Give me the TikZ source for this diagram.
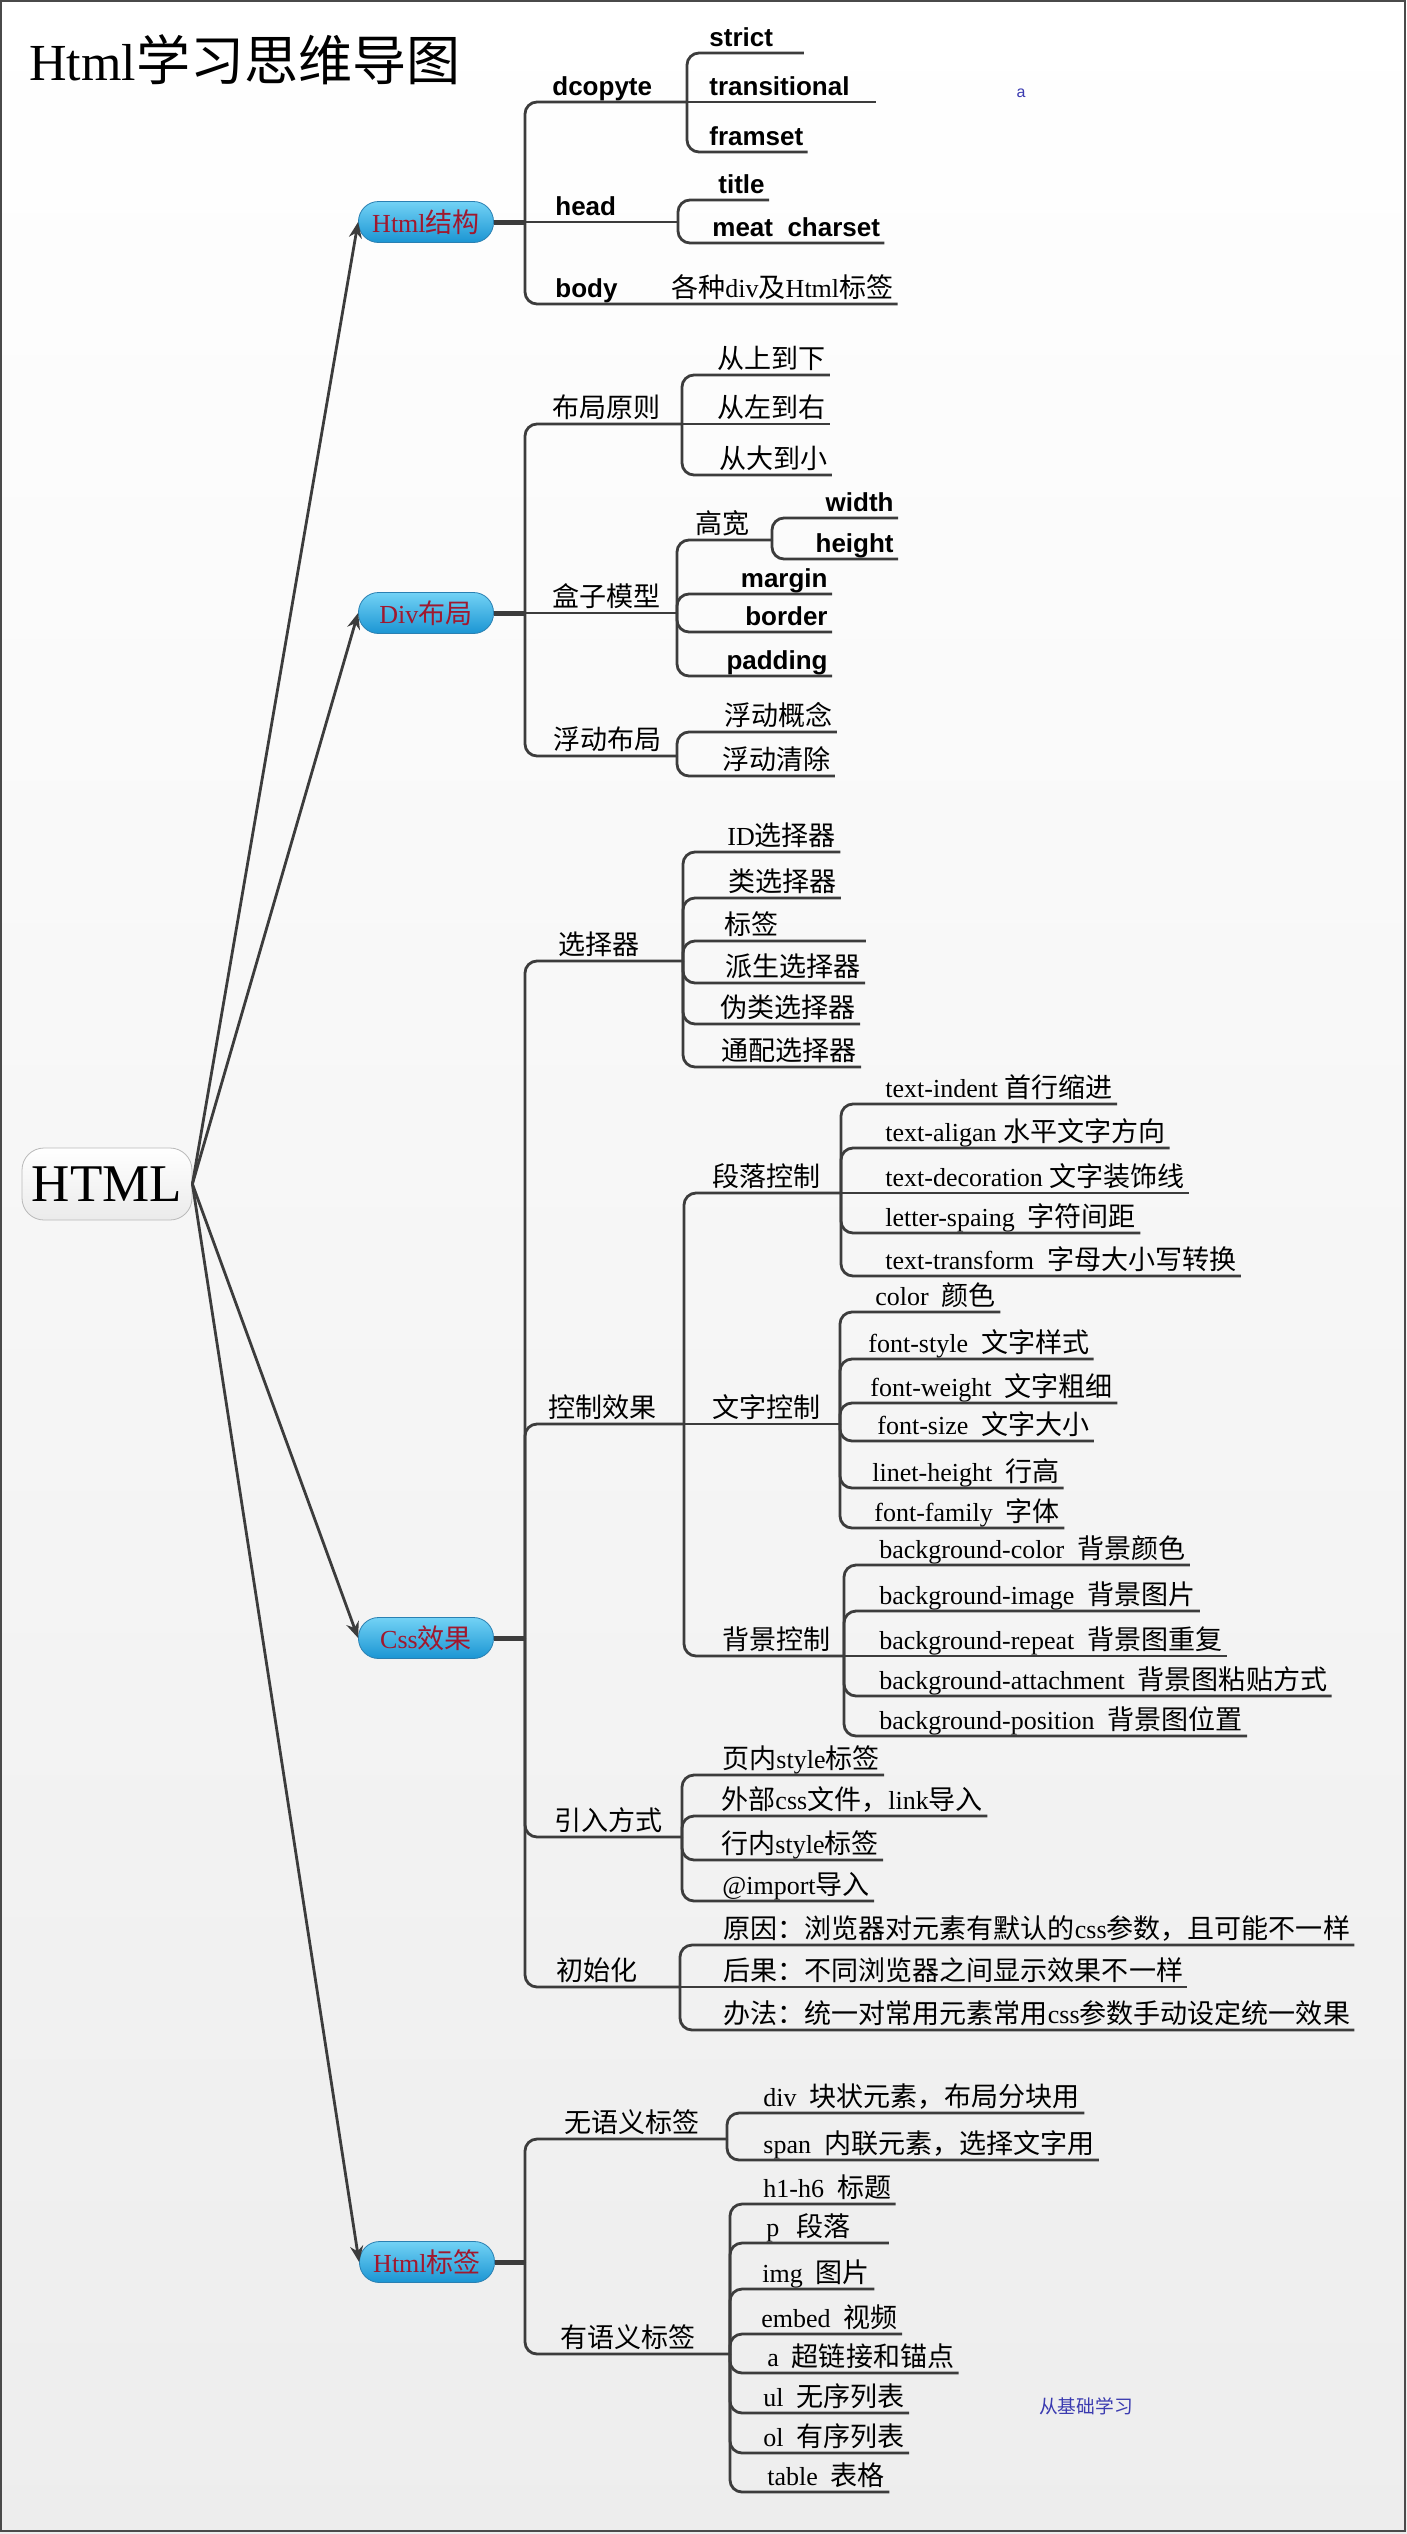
\documentclass[tikz,border=0pt]{standalone}
\usepackage{fontspec}
\setmainfont{Liberation Serif}
\newfontfamily\zhfont[Scale=1.04]{Noto Sans CJK SC}
\newfontfamily\bsans{Liberation Sans}
\newcommand\zh[1]{{\zhfont #1}}
\usetikzlibrary{arrows.meta}
\definecolor{Ink}{HTML}{3C3C3C}
\definecolor{Frame}{HTML}{4A4A4A}
\definecolor{TopicTop}{HTML}{72D2F5}
\definecolor{TopicBot}{HTML}{1B95D3}
\definecolor{TopicRim}{HTML}{2A80B2}
\definecolor{TopicText}{HTML}{A0182E}
\definecolor{Note}{HTML}{3A3AB0}

\begin{document}
\begin{tikzpicture}[x=0.5pt,y=-0.5pt,
root/.style={draw=gray!55,rounded corners=11pt,top color=white,bottom color=black!8,minimum width=85pt,minimum height=36pt,inner sep=0pt,font=\fontsize{26.5pt}{30pt}\selectfont},
topic/.style={draw=TopicRim,rounded corners=10pt,top color=TopicTop,bottom color=TopicBot,minimum width=67.5pt,minimum height=20.5pt,inner sep=0pt,text=TopicText,font=\fontsize{13pt}{15pt}\selectfont},
leaf/.style={anchor=south west,inner xsep=2pt,inner ysep=3pt,text depth=0pt,font=\fontsize{13pt}{15pt}\selectfont},
bleaf/.style={leaf,font=\fontsize{13pt}{15pt}\selectfont\bsans\bfseries},
br/.style={draw=Ink,line width=1.4pt,rounded corners=6pt},
stub/.style={draw=Ink,line width=2.5pt},
arr/.style={-{Stealth[length=8pt,width=6.5pt]},draw=Ink,line width=1.4pt}]
\useasboundingbox (0,0) rectangle (1407,2534);
\fill[top color=white,bottom color=black!7] (0,0) rectangle (1407,2534);
\draw[Frame,line width=1pt] (1,1) rectangle (1405,2531);

\node[anchor=base west,inner sep=0pt,font=\fontsize{26pt}{30pt}\selectfont] (title) at (29,80) {Html\zh{学习思维导图}};
\node[inner sep=0pt,text=Note,font=\fontsize{8pt}{9pt}\selectfont\bsans] (mark) at (1021,93) {a};
\node[inner sep=0pt,text=Note,font=\fontsize{9pt}{10pt}\selectfont] (study) at (1086,2406) {\zh{从基础学习}};

\node[root] (html) at (107,1184) {HTML};
\node[topic] (hs) at (426,222) {Html\zh{结构}};
\node[topic] (dv) at (426,613) {Div\zh{布局}};
\node[topic] (css) at (426,1638) {Css\zh{效果}};
\node[topic] (tag) at (427,2262) {Html\zh{标签}};
\draw[arr] (html.east) -- (hs.west);
\draw[arr] (html.east) -- (dv.west);
\draw[arr] (html.east) -- (css.west);
\draw[arr] (html.east) -- (tag.west);

% Html结构
\coordinate (hsj) at (525,222);
\draw[stub] (hs.east) -- (hsj);
\node[bleaf] (dc) at (548,102) {dcopyte};
\coordinate (dcj) at (687,102);
\draw[br] (hsj) |- (dcj);
\node[bleaf,text width=45pt,align=left] (strict) at (705,53) {strict};
\node[bleaf,text width=81pt,align=left] (trans) at (705,102) {transitional};
\node[bleaf] (frameset) at (705,152) {framset};
\draw[br] (dcj) |- (strict.south east);
\draw[br] (dcj) -- (trans.south east);
\draw[br] (dcj) |- (frameset.south east);
\node[bleaf] (head) at (551,222) {head};
\coordinate (hdj) at (678,222);
\draw[br] (hsj) -- (hdj);
\node[bleaf] (ttl) at (714,200) {title};
\node[bleaf] (meta) at (708,243) {meat~~charset};
\draw[br] (hdj) |- (ttl.south east);
\draw[br] (hdj) |- (meta.south east);
\node[bleaf] (body) at (551,304) {body};
\node[leaf] (tags) at (667,304) {\zh{各种}div\zh{及}Html\zh{标签}};
\draw[br] (hsj) |- (tags.south east);

% Div布局
\coordinate (dvj) at (525,613);
\draw[stub] (dv.east) -- (dvj);
\node[leaf] (yz) at (548,424) {\zh{布局原则}};
\coordinate (yzj) at (682,424);
\draw[br] (dvj) |- (yzj);
\node[leaf] (sx) at (713,375) {\zh{从上到下}};
\node[leaf] (zy) at (713,424) {\zh{从左到右}};
\node[leaf] (dx) at (715,475) {\zh{从大到小}};
\draw[br] (yzj) |- (sx.south east);
\draw[br] (yzj) -- (zy.south east);
\draw[br] (yzj) |- (dx.south east);
\node[leaf] (hz) at (548,613) {\zh{盒子模型}};
\coordinate (hzj) at (677,613);
\draw[br] (dvj) -- (hzj);
\node[leaf] (gk) at (691,540) {\zh{高宽}};
\coordinate (gkj) at (772,540);
\draw[br] (hzj) |- (gkj);
\node[bleaf,anchor=south east] (wd) at (898,518) {width};
\node[bleaf,anchor=south east] (ht) at (898,559) {height};
\draw[br] (gkj) |- (wd.south east);
\draw[br] (gkj) |- (ht.south east);
\node[bleaf,anchor=south east] (mg) at (832,594) {margin};
\node[bleaf,anchor=south east] (bd) at (832,632) {border};
\node[bleaf,anchor=south east] (pd) at (832,676) {padding};
\draw[br] (hzj) |- (mg.south east);
\draw[br] (hzj) |- (bd.south east);
\draw[br] (hzj) |- (pd.south east);
\node[leaf] (fd) at (549,756) {\zh{浮动布局}};
\coordinate (fdj) at (677,756);
\draw[br] (dvj) |- (fdj);
\node[leaf] (gn) at (720,732) {\zh{浮动概念}};
\node[leaf] (qc) at (718,776) {\zh{浮动清除}};
\draw[br] (fdj) |- (gn.south east);
\draw[br] (fdj) |- (qc.south east);

% Css效果
\coordinate (cssj) at (525,1638);
\draw[stub] (css.east) -- (cssj);
\node[leaf] (xz) at (554,961) {\zh{选择器}};
\coordinate (xzj) at (683,961);
\draw[br] (cssj) |- (xzj);
\node[leaf] (idx) at (723,852) {ID\zh{选择器}};
\node[leaf] (lei) at (724,898) {\zh{类选择器}};
\node[leaf,text width=68.5pt,align=left] (bq) at (720,941) {\zh{标签}};
\node[leaf] (ps) at (721,983) {\zh{派生选择器}};
\node[leaf] (wl) at (716,1024) {\zh{伪类选择器}};
\node[leaf] (tp) at (717,1067) {\zh{通配选择器}};
\draw[br] (xzj) |- (idx.south east);
\draw[br] (xzj) |- (lei.south east);
\draw[br] (xzj) |- (bq.south east);
\draw[br] (xzj) |- (ps.south east);
\draw[br] (xzj) |- (wl.south east);
\draw[br] (xzj) |- (tp.south east);
\node[leaf] (kz) at (544,1424) {\zh{控制效果}};
\coordinate (kzj) at (684,1424);
\draw[br] (cssj) |- (kzj);
\node[leaf] (dl) at (708,1193) {\zh{段落控制}};
\coordinate (dlj) at (841,1193);
\draw[br] (kzj) |- (dlj);
\node[leaf] (ti) at (881,1104) {text-indent \zh{首行缩进}};
\node[leaf] (ta) at (881,1148) {text-aligan \zh{水平文字方向}};
\node[leaf] (tdc) at (881,1193) {text-decoration \zh{文字装饰线}};
\node[leaf] (lsp) at (881,1233) {letter-spaing~~\zh{字符间距}};
\node[leaf] (ttf) at (881,1276) {text-transform~~\zh{字母大小写转换}};
\draw[br] (dlj) |- (ti.south east);
\draw[br] (dlj) |- (ta.south east);
\draw[br] (dlj) -- (tdc.south east);
\draw[br] (dlj) |- (lsp.south east);
\draw[br] (dlj) |- (ttf.south east);
\node[leaf] (wz) at (708,1424) {\zh{文字控制}};
\coordinate (wzj) at (840,1424);
\draw[br] (kzj) -- (wzj);
\node[leaf] (co) at (871,1312) {color~~\zh{颜色}};
\node[leaf] (fst) at (864,1359) {font-style~~\zh{文字样式}};
\node[leaf] (fwt) at (866,1403) {font-weight~~\zh{文字粗细}};
\node[leaf] (fsz) at (873,1441) {font-size~~\zh{文字大小}};
\node[leaf] (lht) at (868,1488) {linet-height~~\zh{行高}};
\node[leaf] (ffm) at (870,1528) {font-family~~\zh{字体}};
\draw[br] (wzj) |- (co.south east);
\draw[br] (wzj) |- (fst.south east);
\draw[br] (wzj) |- (fwt.south east);
\draw[br] (wzj) |- (fsz.south east);
\draw[br] (wzj) |- (lht.south east);
\draw[br] (wzj) |- (ffm.south east);
\node[leaf] (bj) at (718,1656) {\zh{背景控制}};
\coordinate (bjj) at (844,1656);
\draw[br] (kzj) |- (bjj);
\node[leaf] (bgc) at (875,1565) {background-color~~\zh{背景颜色}};
\node[leaf] (bgi) at (875,1611) {background-image~~\zh{背景图片}};
\node[leaf] (bgr) at (875,1656) {background-repeat~~\zh{背景图重复}};
\node[leaf] (bga) at (875,1696) {background-attachment~~\zh{背景图粘贴方式}};
\node[leaf] (bgp) at (875,1736) {background-position~~\zh{背景图位置}};
\draw[br] (bjj) |- (bgc.south east);
\draw[br] (bjj) |- (bgi.south east);
\draw[br] (bjj) -- (bgr.south east);
\draw[br] (bjj) |- (bga.south east);
\draw[br] (bjj) |- (bgp.south east);
\node[leaf] (yr) at (550,1837) {\zh{引入方式}};
\coordinate (yrj) at (682,1837);
\draw[br] (cssj) |- (yrj);
\node[leaf] (yn) at (718,1775) {\zh{页内}style\zh{标签}};
\node[leaf] (wb) at (717,1816) {\zh{外部}css\zh{文件，}link\zh{导入}};
\node[leaf] (hn) at (717,1860) {\zh{行内}style\zh{标签}};
\node[leaf] (imp) at (718,1901) {@import\zh{导入}};
\draw[br] (yrj) |- (yn.south east);
\draw[br] (yrj) |- (wb.south east);
\draw[br] (yrj) |- (hn.south east);
\draw[br] (yrj) |- (imp.south east);
\node[leaf] (csh) at (552,1987) {\zh{初始化}};
\coordinate (cshj) at (680,1987);
\draw[br] (cssj) |- (cshj);
\node[leaf] (yy1) at (719,1945) {\zh{原因：浏览器对元素有默认的}css\zh{参数，且可能不一样}};
\node[leaf] (hg) at (719,1987) {\zh{后果：不同浏览器之间显示效果不一样}};
\node[leaf] (bf) at (719,2030) {\zh{办法：统一对常用元素常用}css\zh{参数手动设定统一效果}};
\draw[br] (cshj) |- (yy1.south east);
\draw[br] (cshj) -- (hg.south east);
\draw[br] (cshj) |- (bf.south east);

% Html标签
\coordinate (tagj) at (525,2262);
\draw[stub] (tag.east) -- (tagj);
\node[leaf] (wy) at (560,2139) {\zh{无语义标签}};
\coordinate (wyj) at (727,2139);
\draw[br] (tagj) |- (wyj);
\node[leaf] (dvt) at (759,2113) {div~~\zh{块状元素，布局分块用}};
\node[leaf] (spn) at (759,2160) {span~~\zh{内联元素，选择文字用}};
\draw[br] (wyj) |- (dvt.south east);
\draw[br] (wyj) |- (spn.south east);
\node[leaf] (yy) at (556,2354) {\zh{有语义标签}};
\coordinate (yyj) at (730,2354);
\draw[br] (tagj) |- (yyj);
\node[leaf] (hh) at (759,2204) {h1-h6~~\zh{标题}};
\node[leaf,text width=59pt,align=left] (pp) at (762,2243) {p~~\zh{段落}};
\node[leaf] (img) at (758,2289) {img~~\zh{图片}};
\node[leaf] (emb) at (757,2334) {embed~~\zh{视频}};
\node[leaf] (aa) at (763,2373) {a~~\zh{超链接和锚点}};
\node[leaf] (ul) at (759,2413) {ul~~\zh{无序列表}};
\node[leaf] (ol) at (759,2453) {ol~~\zh{有序列表}};
\node[leaf] (tb) at (763,2492) {table~~\zh{表格}};
\draw[br] (yyj) |- (hh.south east);
\draw[br] (yyj) |- (pp.south east);
\draw[br] (yyj) |- (img.south east);
\draw[br] (yyj) |- (emb.south east);
\draw[br] (yyj) |- (aa.south east);
\draw[br] (yyj) |- (ul.south east);
\draw[br] (yyj) |- (ol.south east);
\draw[br] (yyj) |- (tb.south east);
\end{tikzpicture}
\end{document}
